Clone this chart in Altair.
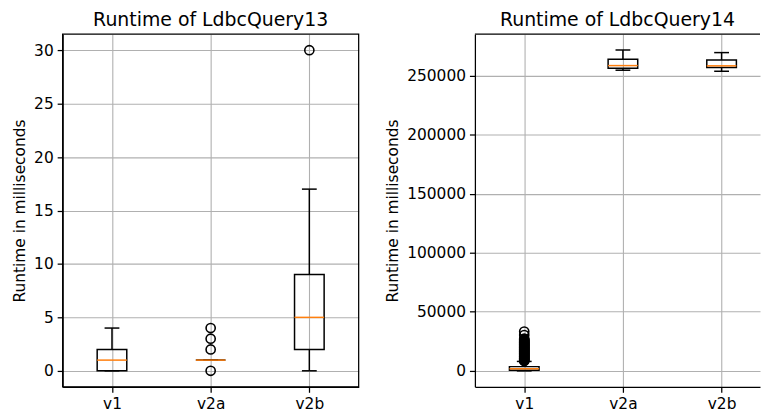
import json
import altair as alt
import pandas as pd

categories = ["v1", "v2a", "v2b"]

# LdbcQuery13 box statistics (milliseconds)
q13_whislo = [0, 1, 0]
q13_q1 = [0, 1, 2]
q13_med = [1, 1, 5]
q13_q3 = [2, 1, 9]
q13_whishi = [4, 1, 17]
q13_out_cat = ["v2a", "v2a", "v2a", "v2a", "v2b"]
q13_out_val = [0, 2, 3, 4, 30]
q13_yticks = [0, 5, 10, 15, 20, 25, 30]

# LdbcQuery14 box statistics (milliseconds)
q14_whislo = [0, 254500, 253600]
q14_q1 = [600, 256100, 256700]
q14_med = [1800, 258400, 258200]
q14_q3 = [3600, 263700, 263200]
q14_whishi = [8000, 271600, 269400]
q14_out_val = [8300, 8800, 9400, 9900, 10500, 11000, 11600, 12200, 12700, 13300,
               13900, 14400, 15000, 15600, 16100, 16700, 17300, 17800, 18400, 19000,
               19600, 20100, 20700, 21300, 21800, 22400, 23000, 23500, 24100, 24700,
               25300, 25900, 26600, 27200, 30300, 33300]
q14_out_cat = ["v1"] * len(q14_out_val)
q14_yticks = [0, 50000, 100000, 150000, 200000, 250000]

FONT = "DejaVu Sans"
ORANGE = "#ff7f0e"
LW = 1.5
H = 355


def panel(title, w, xmax, whislo, q1, med, q3, whishi, out_cat, out_val,
          ydom, yticks, full_frame):
    posmap = {c: i + 1 for i, c in enumerate(categories)}
    box = pd.DataFrame({
        "cat": categories,
        "pos": [posmap[c] for c in categories],
        "whislo": whislo, "q1": q1, "med": med, "q3": q3, "whishi": whishi,
    })
    out = pd.DataFrame({"cat": out_cat, "val": out_val})
    out["pos"] = out["cat"].map(posmap)

    xsc = alt.Scale(domain=[0.5, xmax], nice=False, zero=False)
    ysc = alt.Scale(domain=ydom, nice=False, zero=False)
    xax = alt.Axis(values=[1, 2, 3], title=None, grid=True,
                   labelExpr=json.dumps(categories) + "[datum.value - 1]")
    yax = alt.Axis(values=yticks, title="Runtime in milliseconds", grid=True,
                   format="d")

    def X(f):
        return alt.X(f, type="quantitative", scale=xsc, axis=xax)

    def Y(f):
        return alt.Y(f, type="quantitative", scale=ysc, axis=yax)

    base = alt.Chart(box).transform_calculate(
        xl="datum.pos - 0.15", xr="datum.pos + 0.15",
        cl="datum.pos - 0.075", cr="datum.pos + 0.075",
    )

    wlo = base.mark_rule(color="black", strokeWidth=LW).encode(
        x=X("pos"), y=Y("whislo"), y2="q1")
    whi = base.mark_rule(color="black", strokeWidth=LW).encode(
        x=X("pos"), y=Y("q3"), y2="whishi")
    clo = base.mark_rule(color="black", strokeWidth=LW).encode(
        x=X("cl"), x2="cr", y=Y("whislo"))
    chi = base.mark_rule(color="black", strokeWidth=LW).encode(
        x=X("cl"), x2="cr", y=Y("whishi"))
    rect = base.mark_rect(filled=False, stroke="black", strokeWidth=LW).encode(
        x=X("xl"), x2="xr", y=Y("q1"), y2="q3")
    medl = base.mark_rule(color=ORANGE, strokeWidth=LW).encode(
        x=X("xl"), x2="xr", y=Y("med"))
    pts = alt.Chart(out).mark_point(shape="circle", filled=False, color="black",
                                    strokeWidth=1.6, size=85, opacity=1).encode(
        x=X("pos"), y=Y("val"))

    one = alt.Chart(pd.DataFrame({"a": [0]}))
    if full_frame:
        frame = one.mark_rect(filled=False, stroke="black", strokeWidth=1.25).encode(
            x=alt.value(0), x2=alt.value(w), y=alt.value(0), y2=alt.value(H))
    else:
        frame = one.mark_rule(color="black", strokeWidth=1.25).encode(
            x=alt.value(0), x2=alt.value(w), y=alt.value(0))

    return alt.layer(wlo, whi, clo, chi, rect, medl, pts, frame).properties(
        width=w, height=H,
        title=alt.TitleParams(title, anchor="middle"),
    )


left = panel("Runtime of LdbcQuery13", 298, 3.5,
             q13_whislo, q13_q1, q13_med, q13_q3, q13_whishi,
             q13_out_cat, q13_out_val, [-1.5, 31.5], q13_yticks, True)
right = panel("Runtime of LdbcQuery14", 287, 0.5 + 287 / 99.33,
              q14_whislo, q14_q1, q14_med, q14_q3, q14_whishi,
              q14_out_cat, q14_out_val, [-13500, 285000], q14_yticks, False)

chart = alt.hconcat(left, right, spacing=26).properties(
    padding={"left": 4, "top": 1, "right": 0, "bottom": 0}
).configure_view(stroke=None).configure_axis(
    domainColor="black", domainWidth=1.25,
    tickColor="black", tickWidth=1.25, tickSize=5.5,
    labelFont=FONT, labelFontSize=15.5, labelColor="black", labelPadding=4,
    titleFont=FONT, titleFontSize=15.5, titleFontWeight="normal", titleColor="black",
    titlePadding=6,
    gridColor="#b0b0b0", gridWidth=1.1,
).configure_title(
    font=FONT, fontSize=19, fontWeight="normal", color="black", offset=4,
).configure_concat(spacing=26)

chart.save("out.html", embed_options={"renderer": "svg", "actions": False})
